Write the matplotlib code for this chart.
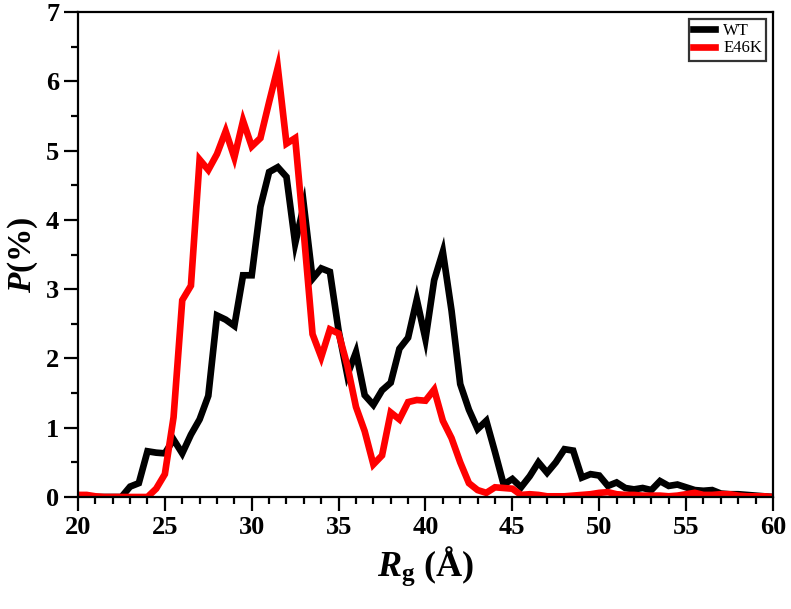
import matplotlib
matplotlib.use("Agg")
import matplotlib.pyplot as plt
import numpy as np

plt.rcParams["font.family"] = ["Liberation Serif", "DejaVu Serif"]
plt.rcParams["mathtext.fontset"] = "custom"
plt.rcParams["mathtext.rm"] = "Liberation Serif:bold"
plt.rcParams["mathtext.it"] = "Liberation Serif:bold:italic"
plt.rcParams["mathtext.bf"] = "Liberation Serif:bold"

# radius of gyration bins (A)
rg = np.arange(20.0, 60.01, 0.5)

# probability (%) per bin
wt = [0.0, 0.0, 0.0, 0.0, 0.0, 0.0, 0.15, 0.2, 0.66, 0.64,
      0.63, 0.83, 0.63, 0.9, 1.12, 1.46, 2.62, 2.56, 2.47, 3.2,
      3.2, 4.19, 4.69, 4.76, 4.62, 3.66, 4.21, 3.15, 3.3, 3.25,
      2.4, 1.76, 2.09, 1.47, 1.33, 1.54, 1.65, 2.14, 2.3, 2.85,
      2.28, 3.13, 3.54, 2.69, 1.63, 1.26, 0.98, 1.1, 0.65, 0.18,
      0.26, 0.14, 0.3, 0.5, 0.35, 0.5, 0.69, 0.67, 0.28, 0.33,
      0.31, 0.16, 0.21, 0.13, 0.11, 0.13, 0.1, 0.23, 0.16, 0.18,
      0.14, 0.1, 0.09, 0.1, 0.05, 0.04, 0.04, 0.03, 0.02, 0.01,
      0.0]
e46k = [0.03, 0.03, 0.01, 0.0, 0.0, 0.0, 0.0, 0.0, 0.0, 0.12,
        0.33, 1.15, 2.84, 3.05, 4.87, 4.72, 4.95, 5.28, 4.9, 5.43,
        5.06, 5.18, 5.7, 6.2, 5.1, 5.18, 3.8, 2.35, 2.02, 2.42,
        2.36, 1.9, 1.3, 0.95, 0.47, 0.6, 1.22, 1.12, 1.37, 1.4,
        1.39, 1.55, 1.1, 0.85, 0.5, 0.2, 0.1, 0.06, 0.14, 0.13,
        0.12, 0.03, 0.04, 0.03, 0.01, 0.01, 0.01, 0.02, 0.03, 0.04,
        0.06, 0.07, 0.04, 0.03, 0.03, 0.02, 0.02, 0.02, 0.01, 0.02,
        0.04, 0.06, 0.03, 0.03, 0.04, 0.04, 0.02, 0.01, 0.01, 0.01,
        0.0]

fig = plt.figure(figsize=(7.91, 6.09), dpi=100)
ax = fig.add_axes([0.0986, 0.1839, 0.8786, 0.7964])

ax.plot(rg, wt, color="black", lw=4.8, label="WT", solid_joinstyle="miter")
ax.plot(rg, e46k, color="red", lw=4.8, label="E46K", solid_joinstyle="miter")

ax.set_xlim(20, 60)
ax.set_ylim(0, 7)
ax.set_xticks(np.arange(20, 61, 5))
ax.set_xticks(np.arange(20, 61, 1), minor=True)
ax.set_yticks(np.arange(0, 8, 1))
ax.set_yticks(np.arange(0, 7.1, 0.5), minor=True)

for s in ax.spines.values():
    s.set_linewidth(1.6)

kw = {"direction": "out", "width": 1.6, "labelsize": 19}
ax.tick_params(which="major", length=10, **kw)
ax.tick_params(which="minor", length=5, width=1.6, direction="out")
for lab in ax.get_xticklabels() + ax.get_yticklabels():
    lab.set_fontweight("bold")

ax.set_xlabel(r"$R_{\mathrm{g}}$ (Å)", fontsize=26, fontweight="bold", labelpad=4)
ax.set_ylabel(r"$P$(%)", fontsize=24, fontweight="bold", labelpad=4)

leg = ax.legend(loc="upper right", fontsize=12, handlelength=1.3,
                frameon=True, fancybox=False, borderaxespad=0.4,
                handletextpad=0.5, labelspacing=0.1, borderpad=0.25)
leg.get_frame().set_edgecolor("black")
leg.get_frame().set_linewidth(1.6)

fig.savefig("out.png", dpi=100)
